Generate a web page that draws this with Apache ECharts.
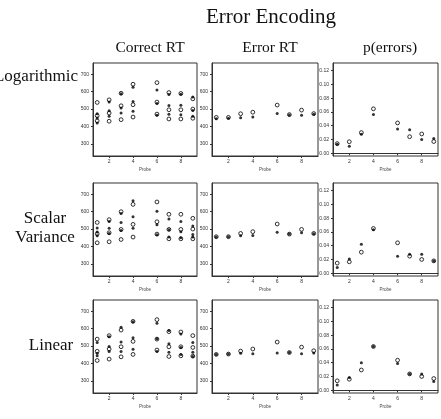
<!DOCTYPE html>
<html>
<head>
<meta charset="utf-8">
<script src="https://cdn.jsdelivr.net/npm/echarts@6/dist/echarts.min.js"></script>
<style>html,body{margin:0;padding:0;background:#fff}#c{width:441px;height:419px}</style>
</head>
<body>
<div id="c"></div>
<script>
// ---- data ----
const probes = [1, 2, 3, 4, 6, 7, 8, 9];
const rowLabels = ['Logarithmic', 'Scalar\nVariance', 'Linear'];
const colTitles = ['Correct RT', 'Error RT', 'p(errors)'];
const rtTicks = [300, 400, 500, 600, 700];
const pTicks = [0, 0.02, 0.04, 0.06, 0.08, 0.10, 0.12];
const probeTicks = [2, 4, 6, 8];

// Logarithmic
const logCorrectOpen   = [[538,462,432],[553,477,430],[591,519,439],[643,525,454],[652,540,471],[595,496,443],[590,496,443],[559,500,447]];
const logCorrectFilled = [[473,449,420],[540,490,458],[588,506,477],[626,544,487],[610,532,464],[584,521,470],[585,522,468],[569,492,458]];
const logErrorOpen     = [452,452,473,482,523,468,494,474];
const logErrorFilled   = [444,447,450,454,474,466,464,470];
const logPOpen         = [0.014,0.0167,0.030,0.0645,0.044,0.024,0.028,0.017];
const logPFilled       = [0.013,0.010,0.0277,0.0564,0.0353,0.034,0.020,0.0214];

// Scalar Variance
const scalCorrectOpen   = [[538,473,421],[554,479,427],[600,498,440],[642,527,454],[656,542,471],[585,498,444],[585,498,444],[562,500,444]];
const scalCorrectFilled = [[506,483,462],[544,504,475],[590,538,492],[663,571,504],[602,525,467],[558,496,454],[544,485,450],[517,469,454]];
const scalErrorOpen     = [456,456,475,485,529,471,498,475];
const scalErrorFilled   = [455,456,462,463,481,471,479,473];
const scalPOpen         = [0.0147,0.0166,0.0306,0.065,0.0442,0.0248,0.020,0.018];
const scalPFilled       = [0.0084,0.0205,0.0422,0.063,0.0248,0.0277,0.0277,0.0176];

// Linear
const linCorrectOpen   = [[540,470,417],[560,483,425],[592,496,438],[642,527,452],[652,540,477],[583,496,440],[581,496,444],[560,492,442]];
const linCorrectFilled = [[521,458,444],[554,498,469],[608,523,469],[640,548,481],[631,542,469],[590,513,465],[569,492,452],[521,465,440]];
const linErrorOpen     = [452,454,471,483,523,463,494,473];
const linErrorFilled   = [452,454,458,456,460,463,456,460];
const linPOpen         = [0.0137,0.016,0.0294,0.0635,0.0436,0.0237,0.020,0.017];
const linPFilled       = [0.0076,0.0185,0.040,0.0635,0.0389,0.0237,0.0237,0.0128];

const panels = [
  [[logCorrectOpen, logCorrectFilled], [logErrorOpen, logErrorFilled], [logPOpen, logPFilled]],
  [[scalCorrectOpen, scalCorrectFilled], [scalErrorOpen, scalErrorFilled], [scalPOpen, scalPFilled]],
  [[linCorrectOpen, linCorrectFilled], [linErrorOpen, linErrorFilled], [linPOpen, linPFilled]]
];

// ---- layout ----
const colLeft = [93, 212, 333];
const colWidth = [104, 106, 105];
const rowTop = [63, 183, 300];
const rowHeight = 93;

function toPairs(arr) {
  const out = [];
  arr.forEach((v, i) => {
    if (Array.isArray(v)) v.forEach(y => out.push([probes[i], y]));
    else out.push([probes[i], v]);
  });
  return out;
}

const grids = [], xAxes = [], yAxes = [], series = [];
const axisColor = '#333';
const labelStyle = { color: '#333', fontSize: 5, fontFamily: 'Liberation Sans' };

for (let r = 0; r < 3; r++) {
  for (let c = 0; c < 3; c++) {
    const idx = grids.length;
    grids.push({ left: colLeft[c], top: rowTop[r], width: colWidth[c], height: rowHeight,
      show: true, borderColor: axisColor, borderWidth: 1, backgroundColor: 'transparent' });
    xAxes.push({ gridIndex: idx, type: 'value', min: 0.65, max: 9.35,
      name: 'Probe', nameLocation: 'middle', nameGap: 11,
      nameTextStyle: { fontSize: 4.5, color: '#444', fontFamily: 'Liberation Sans' },
      axisLine: { show: true, lineStyle: { color: axisColor, width: 1 } },
      axisTick: { show: true, length: 2, customValues: probeTicks, lineStyle: { color: axisColor } },
      axisLabel: Object.assign({ customValues: probeTicks, margin: 3 }, labelStyle),
      splitLine: { show: false } });
    const isP = c === 2;
    yAxes.push({ gridIndex: idx, type: 'value',
      min: isP ? -0.004 : 230, max: isP ? 0.131 : 765,
      axisLine: { show: true, lineStyle: { color: axisColor, width: 1 } },
      axisTick: { show: true, length: 2, customValues: isP ? pTicks : rtTicks, lineStyle: { color: axisColor } },
      axisLabel: Object.assign({ customValues: isP ? pTicks : rtTicks, margin: 4,
        formatter: v => isP ? v.toFixed(2) : String(v) }, labelStyle),
      splitLine: { show: false } });
    const [openVals, filledVals] = panels[r][c];
    series.push({ type: 'scatter', xAxisIndex: idx, yAxisIndex: idx, data: toPairs(openVals),
      symbol: 'circle', symbolSize: 3.8,
      itemStyle: { color: '#fff', borderColor: '#000', borderWidth: 1 }, z: 2 });
    series.push({ type: 'scatter', xAxisIndex: idx, yAxisIndex: idx, data: toPairs(filledVals),
      symbol: 'circle', symbolSize: 3,
      itemStyle: { color: '#000' }, z: 3 });
  }
}

const serif = 'Liberation Serif';
const titles = [
  { text: 'Error Encoding', left: 266, top: 2, textAlign: 'center',
    textStyle: { fontFamily: serif, fontSize: 21, fontWeight: 'normal', color: '#111' } }
];
const colCenters = [145, 265, 385];
colTitles.forEach((t, i) => titles.push({ text: t, left: colCenters[i], top: 35, textAlign: 'center',
  textStyle: { fontFamily: serif, fontSize: 15.5, fontWeight: 'normal', color: '#111' } }));
const rowLabelX = [31, 40, 46];
const rowLabelY = [62, 204, 331];
rowLabels.forEach((t, i) => titles.push({ text: t, left: rowLabelX[i], top: rowLabelY[i], textAlign: 'center',
  textStyle: { fontFamily: serif, fontSize: 17, fontWeight: 'normal', color: '#111', lineHeight: 19, align: 'center' } }));

const chart = echarts.init(document.getElementById('c'), null, { renderer: 'canvas' });
chart.setOption({
  backgroundColor: '#fff',
  animation: false,
  title: titles,
  grid: grids,
  xAxis: xAxes,
  yAxis: yAxes,
  series: series
});
</script>
</body>
</html>
